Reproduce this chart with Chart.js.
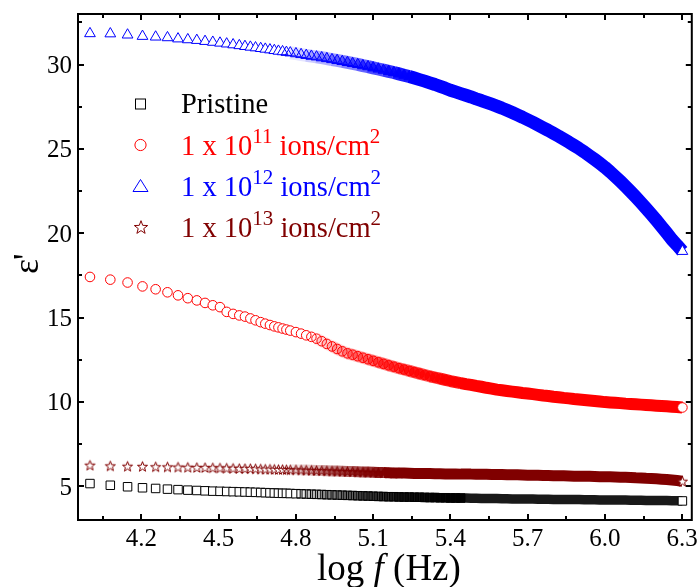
<!DOCTYPE html>
<html>
<head>
<meta charset="utf-8">
<script src="https://cdn.jsdelivr.net/npm/chart.js@4/dist/chart.umd.min.js"></script>
<style>
html,body{margin:0;padding:0;background:#fff;}
#wrap{width:699px;height:587px;position:relative;}
</style>
</head>
<body>
<div id="wrap"><canvas id="c" width="699" height="587"></canvas></div>
<script>
// ---- data (log f, Hz) ----
const logF = [4.000,4.079,4.146,4.204,4.255,4.301,4.342,4.380,4.415,4.447,4.477,4.505,4.531,4.556,4.580,4.602,4.623,4.643,4.663,4.681,4.699,4.716,4.732,4.748,4.763,4.778,
4.80,4.82,4.84,4.86,4.88,4.90,4.92,4.94,4.96,4.98,
5.00,5.02,5.04,5.06,5.08,5.10,5.12,5.14,5.16,5.18,
5.20,5.22,5.24,5.26,5.28,5.30,5.32,5.34,5.36,5.38,
5.40,5.42,5.44,5.46,5.48,5.50,5.52,5.54,5.56,5.58,
5.60,5.62,5.64,5.66,5.68,5.70,5.72,5.74,5.76,5.78,
5.80,5.82,5.84,5.86,5.88,5.90,5.92,5.94,5.96,5.98,
6.00,6.02,6.04,6.06,6.08,6.10,6.12,6.14,6.16,6.18,
6.20,6.22,6.24,6.26,6.28,6.301];

const pristine = [5.16,5.06,4.97,4.91,4.87,4.83,4.80,4.77,4.75,4.73,4.71,4.70,4.69,4.68,4.67,4.66,4.65,4.64,4.63,4.62,4.61,4.60,4.59,4.58,4.58,4.57,
4.56,4.55,4.54,4.53,4.52,4.51,4.50,4.49,4.48,4.47,
4.46,4.45,4.44,4.43,4.42,4.41,4.40,4.39,4.38,4.38,
4.37,4.36,4.36,4.35,4.35,4.34,4.33,4.33,4.32,4.32,
4.31,4.31,4.30,4.30,4.29,4.29,4.28,4.28,4.27,4.27,
4.26,4.26,4.25,4.25,4.25,4.24,4.24,4.23,4.23,4.23,
4.22,4.22,4.22,4.21,4.21,4.21,4.20,4.20,4.20,4.19,
4.19,4.19,4.18,4.18,4.18,4.17,4.17,4.17,4.16,4.16,
4.16,4.15,4.15,4.14,4.14,4.13];

const ions1e11 = [17.41,17.25,17.08,16.85,16.68,16.50,16.32,16.15,16.02,15.87,15.73,15.62,15.34,15.22,15.13,15.06,14.95,14.84,14.73,14.64,14.56,14.48,14.42,14.35,14.29,14.23,
14.14,14.05,13.95,13.86,13.75,13.60,13.44,13.29,13.14,13.00,
12.88,12.80,12.71,12.62,12.53,12.44,12.35,12.26,12.17,12.09,
12.00,11.92,11.84,11.76,11.68,11.60,11.52,11.45,11.38,11.31,
11.24,11.18,11.12,11.06,11.01,10.95,10.90,10.84,10.79,10.73,
10.69,10.65,10.61,10.57,10.53,10.50,10.46,10.42,10.38,10.35,
10.31,10.28,10.24,10.21,10.17,10.14,10.11,10.08,10.05,10.02,
9.99,9.97,9.95,9.93,9.90,9.88,9.86,9.84,9.82,9.80,
9.78,9.76,9.74,9.72,9.70,9.67];

const ions1e12 = [31.84,31.83,31.76,31.68,31.64,31.60,31.53,31.48,31.44,31.38,31.33,31.28,31.23,31.18,31.13,31.08,31.04,31.00,30.96,30.92,30.88,30.84,30.80,30.77,30.73,30.70,
30.65,30.60,30.55,30.50,30.46,30.41,30.36,30.30,30.25,30.19,
30.13,30.07,30.01,29.94,29.88,29.81,29.74,29.67,29.60,29.53,
29.45,29.37,29.29,29.20,29.11,29.02,28.92,28.82,28.71,28.60,
28.48,28.38,28.28,28.18,28.08,27.97,27.87,27.76,27.65,27.54,
27.42,27.29,27.16,27.02,26.88,26.73,26.58,26.42,26.26,26.10,
25.93,25.76,25.58,25.40,25.21,25.02,24.82,24.60,24.38,24.15,
23.91,23.65,23.37,23.08,22.78,22.47,22.15,21.82,21.48,21.13,
20.77,20.40,20.02,19.63,19.30,18.93];

const ions1e13 = [6.25,6.21,6.19,6.18,6.16,6.15,6.14,6.13,6.12,6.11,6.10,6.09,6.08,6.07,6.06,6.05,6.05,6.04,6.03,6.02,6.02,6.01,6.00,6.00,5.99,5.98,
5.98,5.97,5.96,5.95,5.94,5.93,5.92,5.91,5.90,5.89,
5.88,5.87,5.86,5.85,5.84,5.83,5.82,5.81,5.80,5.79,
5.79,5.78,5.77,5.76,5.76,5.75,5.75,5.74,5.74,5.73,
5.73,5.73,5.72,5.72,5.72,5.71,5.71,5.71,5.70,5.70,
5.70,5.69,5.68,5.68,5.67,5.66,5.66,5.65,5.64,5.64,
5.63,5.62,5.62,5.61,5.60,5.60,5.59,5.59,5.58,5.57,
5.57,5.56,5.55,5.54,5.53,5.52,5.50,5.49,5.47,5.46,
5.44,5.42,5.40,5.37,5.34,5.30];

const xMajorTicks = [4.2,4.5,4.8,5.1,5.4,5.7,6.0,6.3];
const xMinorTicks = [4.05,4.35,4.65,4.95,5.25,5.55,5.85,6.15];
const yMajorTicks = [5,10,15,20,25,30];
const yMinorTicks = [7.5,12.5,17.5,22.5,27.5,32.5];

// legend text pieces: [text, isSuperscript]
const legendTexts = [
  [['Pristine',0]],
  [['1 x 10',0],['11',1],[' ions/cm',0],['2',1]],
  [['1 x 10',0],['12',1],[' ions/cm',0],['2',1]],
  [['1 x 10',0],['13',1],[' ions/cm',0],['2',1]]
];

// ---- styling ----
const FONT = "'Liberation Serif','Times New Roman',Times,serif";
const C_BLACK = '#000000', C_RED = '#ff0000', C_BLUE = '#0000ff', C_WINE = '#800000';
const N = logF.length;

function ramp(x, a0, a1, maxA){ return Math.max(0, Math.min(1, (x - a0) / (a1 - a0))) * maxA; }
function fillFn(rgb, a0, a1, maxA){
  return ctx => {
    const i = ctx.dataIndex;
    if (i === N - 1) return '#ffffff';
    const a = ramp(logF[i], a0, a1, maxA);
    return a <= 0 ? '#ffffff' : 'rgba(' + rgb + ',' + a.toFixed(2) + ')';
  };
}
function segFn(rgb, a0, a1, maxA){
  return c => {
    const a = Math.round(ramp(c.p0.parsed.x, a0, a1, maxA) * 10) / 10;
    return a <= 0 ? 'rgba(0,0,0,0)' : 'rgba(' + rgb + ',' + a.toFixed(1) + ')';
  };
}
function radiusFn(R, cut){
  return ctx => (ctx.dataIndex === N - 1 || logF[ctx.dataIndex] < cut) ? R : 0;
}

function starPath(g, R, r){
  g.beginPath();
  for (let k = 0; k < 10; k++){
    const rad = (k % 2) ? r : R;
    const a = -Math.PI / 2 + k * Math.PI / 5;
    if (k === 0) g.moveTo(rad * Math.cos(a), rad * Math.sin(a));
    else g.lineTo(rad * Math.cos(a), rad * Math.sin(a));
  }
  g.closePath();
}
const starCache = {};
function starImage(fill, R, r){
  const key = fill + '|' + R;
  if (starCache[key]) return starCache[key];
  const s = Math.ceil(2 * R + 4);
  const c = document.createElement('canvas');
  c.width = s; c.height = s;
  const g = c.getContext('2d');
  g.translate(s / 2, s / 2 + R * 0.1);
  starPath(g, R, r);
  g.fillStyle = fill; g.fill();
  g.lineWidth = 1; g.strokeStyle = C_WINE; g.stroke();
  starCache[key] = c;
  return c;
}
const wineFill = fillFn('128,0,0', 4.75, 5.15, 1);

function pts(arr){ return logF.map((x, i) => ({x: x, y: arr[i]})); }

function makeSet(label, arr, style, R, rgb, color, a0, a1, maxA, band){
  return {
    label: label, data: pts(arr), showLine: true, fill: false,
    borderWidth: band, borderColor: color, borderCapStyle: 'butt', borderJoinStyle: 'round',
    segment: {borderColor: segFn(rgb, a0, a1, maxA)},
    pointStyle: style, pointRadius: radiusFn(R, a1 + 0.06),
    pointBorderColor: color, pointBorderWidth: 1,
    pointBackgroundColor: fillFn(rgb, a0, a1, maxA)
  };
}

const datasets = [
  makeSet('Pristine', pristine, 'rect', 6, '0,0,0', C_BLACK, 4.8, 5.4, 0.9, 9.5),
  makeSet('1e11', ions1e11, 'circle', 4.8, '255,0,0', C_RED, 4.85, 5.45, 1, 12),
  makeSet('1e12', ions1e12, 'triangle', 6.2, '0,0,255', C_BLUE, 4.75, 5.25, 1, 13),
  makeSet('1e13', ions1e13, ctx => starImage(wineFill(ctx), 5.3, 2.2), 5.3, '128,0,0', C_WINE, 4.75, 5.15, 1, 11)
];

const framePlugin = {
  id:'frame',
  afterDatasetsDraw(chart){
    const g = chart.ctx, a = chart.chartArea, sx = chart.scales.x, sy = chart.scales.y;
    g.save();
    g.strokeStyle = '#000'; g.lineWidth = 2; g.lineCap = 'butt';
    g.strokeRect(a.left, a.top, a.right - a.left, a.bottom - a.top);
    const tick = (x1,y1,x2,y2) => { g.beginPath(); g.moveTo(x1,y1); g.lineTo(x2,y2); g.stroke(); };
    const MJ = 6, MN = 4;
    xMajorTicks.forEach(v => { const p = Math.round(sx.getPixelForValue(v)); tick(p, a.bottom, p, a.bottom - MJ); tick(p, a.top, p, a.top + MJ); });
    xMinorTicks.forEach(v => { const p = Math.round(sx.getPixelForValue(v)); tick(p, a.bottom, p, a.bottom - MN); tick(p, a.top, p, a.top + MN); });
    yMajorTicks.forEach(v => { const p = Math.round(sy.getPixelForValue(v)); tick(a.left, p, a.left + MJ, p); tick(a.right, p, a.right - MJ, p); });
    yMinorTicks.forEach(v => { const p = Math.round(sy.getPixelForValue(v)); tick(a.left, p, a.left + MN, p); tick(a.right, p, a.right - MN, p); });
    // tick labels
    g.fillStyle = '#000'; g.font = '25px ' + FONT; g.textBaseline = 'alphabetic';
    g.textAlign = 'center';
    xMajorTicks.forEach(v => { g.fillText(v.toFixed(1), sx.getPixelForValue(v), 546); });
    g.textAlign = 'right';
    yMajorTicks.forEach(v => { g.fillText(String(v), 72, sy.getPixelForValue(v) + 8.5); });
    g.restore();
  },
  afterDraw(chart){
    const g = chart.ctx;
    g.save();
    // ---- legend ----
    const colors = [C_BLACK, C_RED, C_BLUE, C_WINE];
    const baselines = [113, 155, 196, 237];
    const markerY = [104, 145, 186.5, 227];
    const mx = 140.5;
    legendTexts.forEach((parts, k) => {
      const col = colors[k];
      g.strokeStyle = col; g.fillStyle = '#fff'; g.lineWidth = 1;
      const my = markerY[k];
      if (k === 0){ g.fillRect(mx-5, my-5, 10, 10); g.strokeRect(mx-5, my-5, 10, 10); }
      else if (k === 1){ g.beginPath(); g.arc(mx, my, 5.6, 0, Math.PI*2); g.fill(); g.stroke(); }
      else if (k === 2){ g.beginPath(); g.moveTo(mx, my-7); g.lineTo(mx+7.5, my+5); g.lineTo(mx-7.5, my+5); g.closePath(); g.fill(); g.stroke(); }
      else { const im = starImage('#ffffff', 7, 2.9); g.drawImage(im, Math.round(mx - im.width/2), Math.round(my - im.height/2)); }
      g.fillStyle = col; g.textBaseline = 'alphabetic'; g.textAlign = 'left';
      const bl = baselines[k];
      let x = 181;
      parts.forEach(p => {
        if (p[1]){ g.font = '21px ' + FONT; g.fillText(p[0], x, bl - 12); }
        else { g.font = '28.5px ' + FONT; g.fillText(p[0], x, bl); }
        x += g.measureText(p[0]).width;
      });
    });
    // ---- x title ----
    g.fillStyle = '#000'; g.textAlign = 'left';
    let tx = 317;
    g.font = '37px ' + FONT; g.fillText('log ', tx, 580); tx += g.measureText('log ').width;
    g.font = 'italic 37px ' + FONT; g.fillText('f', tx, 580); tx += g.measureText('f').width;
    g.font = '37px ' + FONT; g.fillText(' (Hz)', tx, 580);
    // ---- y title ----
    g.translate(37.5, 274); g.rotate(-Math.PI/2);
    g.textAlign = 'left'; g.font = '36px ' + FONT;
    g.fillText('\u03B5', 0, 0);
    g.fillText("'", 14, 0);
    g.restore();
  }
};

new Chart(document.getElementById('c'), {
  type:'scatter',
  data:{datasets: datasets},
  options:{
    responsive:false, animation:false, devicePixelRatio:1,
    layout:{padding:{top:14, right:5, left:0, bottom:0}},
    plugins:{legend:{display:false}, tooltip:{enabled:false}},
    elements:{point:{hoverRadius:0}},
    scales:{
      x:{type:'linear', min:3.9535, max:6.3375,
         afterBuildTicks: s => { s.ticks = xMajorTicks.map(v => ({value:v})); },
         afterFit: s => { s.height = 67; },
         grid:{display:false}, border:{display:false},
         ticks:{display:false}},
      y:{type:'linear', min:3, max:33,
         afterBuildTicks: s => { s.ticks = yMajorTicks.map(v => ({value:v})); },
         afterFit: s => { s.width = 78; },
         grid:{display:false}, border:{display:false},
         ticks:{display:false}}
    }
  },
  plugins:[framePlugin]
});
</script>
</body>
</html>
